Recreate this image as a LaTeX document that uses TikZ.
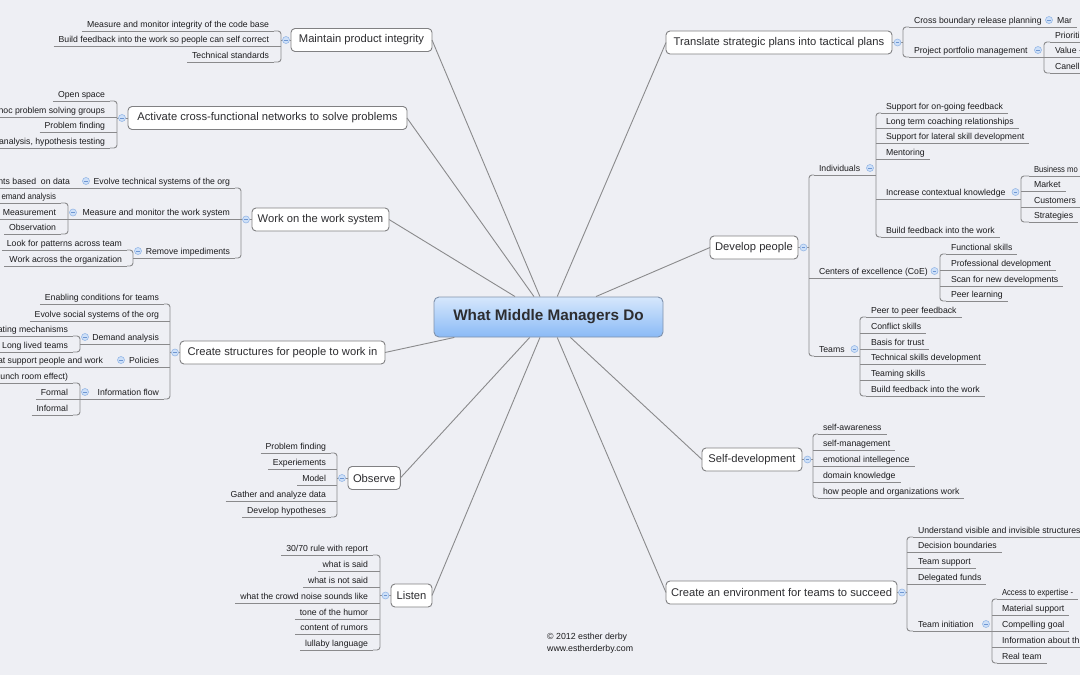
\documentclass[tikz,border=0pt]{standalone}
\usepackage{graphicx}
\usepackage{fontspec}
\setmainfont{Liberation Sans}
\definecolor{bg}{RGB}{238,239,244}
\definecolor{ln}{RGB}{138,138,140}
\definecolor{bxd}{RGB}{128,128,130}
\definecolor{tx}{RGB}{28,28,30}
\definecolor{mtx}{RGB}{45,45,48}
\definecolor{ctop}{RGB}{214,231,252}
\definecolor{cbot}{RGB}{138,186,246}
\definecolor{cbd}{RGB}{128,146,172}
\definecolor{btnf}{RGB}{206,224,248}
\definecolor{btnd}{RGB}{150,184,230}
\definecolor{btnm}{RGB}{110,150,210}
\newcommand\leafL[4]{\node[lf,anchor=south east] (#1) at ({#2+5},#3) {#4};\draw[conn] (#1.south west) -- (#1.south east);}
\newcommand\leafR[4]{\node[lf,anchor=south west] (#1) at ({#2-5},#3) {#4};\draw[conn] (#1.south west) -- (#1.south east);}
\newcommand\brkL[3]{\draw[brk] (#2.south east) -- (#2.south east -| #1) -- (#3.south east -| #1) -- (#3.south east);}
\newcommand\midL[2]{\draw[conn] (#2.south east) -- (#2.south east -| #1);}
\newcommand\brkR[3]{\draw[brk] (#2.south west) -- (#2.south west -| #1) -- (#3.south west -| #1) -- (#3.south west);}
\newcommand\midR[2]{\draw[conn] (#2.south west -| #1) -- (#2.south west);}
\newcommand\squeeze[2]{\scalebox{#1}[1]{#2}}
\begin{document}
\begin{tikzpicture}[x=1pt,y=-1pt,
  conn/.style={draw=ln,line width=0.9pt},
  brk/.style={conn,rounded corners=3pt},
  lf/.style={font=\fontsize{8.7}{10}\selectfont,text=tx,inner xsep=5pt,inner ysep=4pt,text height=6.3pt,text depth=0pt,outer sep=0pt},
  topic/.style={draw=bxd,fill=white,rounded corners=4pt,line width=0.9pt,inner xsep=5pt,inner ysep=0pt,minimum height=23pt,font=\fontsize{11.2}{13}\selectfont,text=mtx,outer sep=0pt},
  btn/.style={circle,draw=btnd,fill=btnf,line width=0.6pt,minimum size=7pt,inner sep=0pt,
    path picture={\draw[btnm,line width=0.8pt] ([xshift=-1.8pt]path picture bounding box.center) -- ([xshift=1.8pt]path picture bounding box.center);}},
  central/.style={draw=cbd,top color=ctop,bottom color=cbot,rounded corners=5pt,line width=0.9pt,minimum width=229pt,minimum height=40pt,inner sep=0pt,font=\bfseries\fontsize{15.3}{17}\selectfont,text=mtx}
]
\useasboundingbox (0,0) rectangle (1080,675);
\fill[bg] (0,0) rectangle (1080,675);
\clip (0,0) rectangle (1080,675);

% ---------- central and main topics ----------
\node[central] (ctr) at (548.5,317) {What Middle Managers Do};
\node[topic,anchor=west,minimum width=141pt] (m1) at (291,40) {Maintain product integrity};
\node[topic,anchor=west,minimum width=279pt] (m2) at (128,118) {Activate cross-functional networks to solve problems};
\node[topic,anchor=west,minimum width=137pt] (m3) at (252,219.5) {Work on the work system};
\node[topic,anchor=west,minimum width=205pt] (m4) at (180,352.5) {Create structures for people to work in};
\node[topic,anchor=west,minimum width=51pt] (m5) at (348,478) {Observe};
\node[topic,anchor=west,minimum width=41pt] (m6) at (391,595.5) {Listen};
\node[topic,anchor=east,minimum width=226pt] (m7) at (892,42.5) {Translate strategic plans into tactical plans};
\node[topic,anchor=east,minimum width=88pt] (m8) at (798,247.5) {Develop people};
\node[topic,anchor=east,minimum width=100pt] (m9) at (802,459.5) {Self-development};
\node[topic,anchor=east,minimum width=231pt] (m10) at (897,592.5) {Create an environment for teams to succeed};

\foreach \m in {m1,m2,m3,m4,m5,m6} \draw[conn] (ctr) -- (\m.east);
\foreach \m in {m7,m8,m9,m10} \draw[conn] (ctr) -- (\m.west);

% ---------- A: Maintain product integrity ----------
\coordinate (jA) at (281,40);
\leafL{A1}{269}{31}{Measure and monitor integrity of the code base}
\leafL{A2}{269}{46.5}{Build feedback into the work so people can self correct}
\leafL{A3}{269}{62}{Technical standards}
\brkL{jA}{A1}{A3} \midL{jA}{A2}
\draw[conn] (m1.west) -- (jA);
\node[btn] (cA) at (286,40) {};

% ---------- B: Activate cross-functional networks ----------
\coordinate (jB) at (117,118);
\leafL{B1}{105}{101}{Open space}
\leafL{B2}{105}{117}{hoc problem solving groups}
\leafL{B3}{105}{132}{Problem finding}
\leafL{B4}{105}{148}{analysis, hypothesis testing}
\brkL{jB}{B1}{B4} \midL{jB}{B2} \midL{jB}{B3}
\draw[conn] (m2.west) -- (jB);
\node[btn] (cB) at (122,118) {};

% ---------- C: Work on the work system ----------
\coordinate (jC) at (241,219.5);
\leafL{C1}{230}{188}{Evolve technical systems of the org}
\leafL{C2}{230}{219.5}{Measure and monitor the work system}
\leafL{C3}{230}{258}{Remove impediments}
\brkL{jC}{C1}{C3} \midL{jC}{C2}
\draw[conn] (m3.west) -- (jC);
\node[btn] (cC) at (246,219.5) {};
\leafL{C1a}{70}{188}{nts based~ on data}
\draw[conn] (C1a.south east) -- (C1.south west);
\node[btn] (cC1) at (86,181) {};
\coordinate (jC2) at (68,219.5);
\leafL{C2a}{56}{203}{\squeeze{0.9}{emand analysis}}
\leafL{C2b}{56}{219.5}{Measurement}
\leafL{C2c}{56}{234}{Observation}
\brkL{jC2}{C2a}{C2c} \midL{jC2}{C2b}
\draw[conn] (jC2) -- (C2.south west);
\node[btn] (cC2) at (73,212.5) {};
\coordinate (jC3) at (133,258);
\leafL{C3a}{122}{250}{Look for patterns across team}
\leafL{C3b}{122}{266}{Work across the organization}
\brkL{jC3}{C3a}{C3b}
\draw[conn] (jC3) -- (C3.south west);
\node[btn] (cC3) at (138,251) {};

% ---------- D: Create structures ----------
\coordinate (jD) at (170,352.5);
\leafL{D1}{159}{304}{Enabling conditions for teams}
\leafL{D2}{159}{321}{Evolve social systems of the org}
\leafL{D3}{159}{344}{Demand analysis}
\leafL{D4}{159}{367}{Policies}
\leafL{D5}{159}{399}{Information flow}
\brkL{jD}{D1}{D5} \midL{jD}{D2} \midL{jD}{D3} \midL{jD}{D4}
\draw[conn] (m4.west) -- (jD);
\node[btn] (cD) at (175,352.5) {};
\coordinate (jD3) at (80,344);
\leafL{D3a}{68}{336}{ating mechanisms}
\leafL{D3b}{68}{352}{Long lived teams}
\brkL{jD3}{D3a}{D3b}
\draw[conn] (jD3) -- (D3.south west);
\node[btn] (cD3) at (85,337) {};
\leafL{D4a}{103}{367}{at support people and work}
\draw[conn] (D4a.south east) -- (D4.south west);
\node[btn] (cD4) at (121,360) {};
\coordinate (jD5) at (80,399);
\leafL{D5a}{68}{383}{unch room effect)}
\leafL{D5b}{68}{399}{Formal}
\leafL{D5c}{68}{415}{Informal}
\brkL{jD5}{D5a}{D5c} \midL{jD5}{D5b}
\draw[conn] (jD5) -- (D5.south west);
\node[btn] (cD5) at (85,392) {};

% ---------- E: Observe ----------
\coordinate (jE) at (337,478);
\leafL{E1}{326}{453}{Problem finding}
\leafL{E2}{326}{469}{Experiements}
\leafL{E3}{326}{485}{Model}
\leafL{E4}{326}{501}{Gather and analyze data}
\leafL{E5}{326}{517}{Develop hypotheses}
\brkL{jE}{E1}{E5} \midL{jE}{E2} \midL{jE}{E3} \midL{jE}{E4}
\draw[conn] (m5.west) -- (jE);
\node[btn] (cE) at (342,478) {};

% ---------- F: Listen ----------
\coordinate (jF) at (380,595.5);
\leafL{F1}{368}{555}{30/70 rule with report}
\leafL{F2}{368}{571}{what is said}
\leafL{F3}{368}{587}{what is not said}
\leafL{F4}{368}{603}{what the crowd noise sounds like}
\leafL{F5}{368}{619}{tone of the humor}
\leafL{F6}{368}{634}{content of rumors}
\leafL{F7}{368}{650}{lullaby language}
\brkL{jF}{F1}{F7} \midL{jF}{F2} \midL{jF}{F3} \midL{jF}{F4} \midL{jF}{F5} \midL{jF}{F6}
\draw[conn] (m6.west) -- (jF);
\node[btn] (cF) at (385.5,595.5) {};

% ---------- G: Translate strategic plans ----------
\coordinate (jG) at (903,42.5);
\leafR{G1}{914}{27}{Cross boundary release planning}
\leafR{G2}{914}{57}{Project portfolio management}
\brkR{jG}{G1}{G2}
\draw[conn] (m7.east) -- (jG);
\node[btn] (cG) at (897.5,42.5) {};
\leafR{G1a}{1057}{27}{Mar}
\draw[conn] (G1.south east) -- (G1a.south west);
\node[btn] (cG1) at (1049,20) {};
\coordinate (jG2) at (1044,57);
\leafR{G2a}{1055}{42}{Prioriti}
\leafR{G2b}{1055}{57}{Value -}
\leafR{G2c}{1055}{73}{Canell}
\brkR{jG2}{G2a}{G2c} \midR{jG2}{G2b}
\draw[conn] (G2.south east) -- (jG2);
\node[btn] (cG2) at (1038,50) {};

% ---------- H: Develop people ----------
\coordinate (jH) at (809,247.5);
\leafR{H1}{819}{175}{Individuals}
\leafR{H2}{819}{278}{Centers of excellence (CoE)}
\leafR{H3}{819}{356}{Teams}
\brkR{jH}{H1}{H3} \midR{jH}{H2}
\draw[conn] (m8.east) -- (jH);
\node[btn] (cH) at (803.5,247.5) {};
\coordinate (jH1) at (876,175);
\leafR{H1a}{886}{113}{Support for on-going feedback}
\leafR{H1b}{886}{128}{Long term coaching relationships}
\leafR{H1c}{886}{143.5}{Support for lateral skill development}
\leafR{H1d}{886}{159}{Mentoring}
\leafR{H1e}{886}{199}{Increase contextual knowledge}
\leafR{H1f}{886}{237}{Build feedback into the work}
\brkR{jH1}{H1a}{H1f} \midR{jH1}{H1b} \midR{jH1}{H1c} \midR{jH1}{H1d} \midR{jH1}{H1e}
\draw[conn] (H1.south east) -- (jH1);
\node[btn] (cH1) at (870,168) {};
\coordinate (jH1e) at (1021,199);
\leafR{H1e1}{1034}{176}{\squeeze{0.88}{Business mo}}
\leafR{H1e2}{1034}{191}{Market}
\leafR{H1e3}{1034}{207}{Customers}
\leafR{H1e4}{1034}{222}{Strategies}
\brkR{jH1e}{H1e1}{H1e4} \midR{jH1e}{H1e2} \midR{jH1e}{H1e3}
\draw[conn] (H1e.south east) -- (jH1e);
\node[btn] (cH1e) at (1015.5,192) {};
\coordinate (jH2) at (940,278);
\leafR{H2a}{951}{254}{Functional skills}
\leafR{H2b}{951}{270}{Professional development}
\leafR{H2c}{951}{286}{Scan for new developments}
\leafR{H2d}{951}{301}{Peer learning}
\brkR{jH2}{H2a}{H2d} \midR{jH2}{H2b} \midR{jH2}{H2c}
\draw[conn] (H2.south east) -- (jH2);
\node[btn] (cH2) at (934.5,271) {};
\coordinate (jH3) at (860,356);
\leafR{H3a}{871}{317}{Peer to peer feedback}
\leafR{H3b}{871}{333}{Conflict skills}
\leafR{H3c}{871}{349}{Basis for trust}
\leafR{H3d}{871}{364}{Technical skills development}
\leafR{H3e}{871}{380}{Teaming skills}
\leafR{H3f}{871}{396}{Build feedback into the work}
\brkR{jH3}{H3a}{H3f} \midR{jH3}{H3b} \midR{jH3}{H3c} \midR{jH3}{H3d} \midR{jH3}{H3e}
\draw[conn] (H3.south east) -- (jH3);
\node[btn] (cH3) at (854.5,349) {};

% ---------- I: Self-development ----------
\coordinate (jI) at (813,459.5);
\leafR{I1}{823}{434}{self-awareness}
\leafR{I2}{823}{450}{self-management}
\leafR{I3}{823}{466}{emotional intellegence}
\leafR{I4}{823}{482}{domain knowledge}
\leafR{I5}{823}{498}{how people and organizations work}
\brkR{jI}{I1}{I5} \midR{jI}{I2} \midR{jI}{I3} \midR{jI}{I4}
\draw[conn] (m9.east) -- (jI);
\node[btn] (cI) at (807.5,459.5) {};

% ---------- J: Create an environment ----------
\coordinate (jJ) at (907,592.5);
\leafR{J1}{918}{537}{Understand visible and invisible structures}
\leafR{J2}{918}{552}{Decision boundaries}
\leafR{J3}{918}{568}{Team support}
\leafR{J4}{918}{584}{Delegated funds}
\leafR{J5}{918}{631}{Team initiation}
\brkR{jJ}{J1}{J5} \midR{jJ}{J2} \midR{jJ}{J3} \midR{jJ}{J4}
\draw[conn] (m10.east) -- (jJ);
\node[btn] (cJ) at (902,592.5) {};
\coordinate (jJ5) at (992,631);
\leafR{J5a}{1002}{599}{\squeeze{0.88}{Access to expertise -}}
\leafR{J5b}{1002}{615}{Material support}
\leafR{J5c}{1002}{631}{Compelling goal}
\leafR{J5d}{1002}{647}{Information about th}
\leafR{J5e}{1002}{663}{Real team}
\brkR{jJ5}{J5a}{J5e} \midR{jJ5}{J5b} \midR{jJ5}{J5c} \midR{jJ5}{J5d}
\draw[conn] (J5.south east) -- (jJ5);
\node[btn] (cJ5) at (986,624) {};

% ---------- copyright ----------
\node[font=\fontsize{8.8}{10}\selectfont,anchor=west,inner sep=0pt,text=tx] (cp1) at (547,637) {© 2012 esther derby};
\node[font=\fontsize{8.8}{10}\selectfont,anchor=west,inner sep=0pt,text=tx] (cp2) at (547,649) {www.estherderby.com};
\end{tikzpicture}
\end{document}
